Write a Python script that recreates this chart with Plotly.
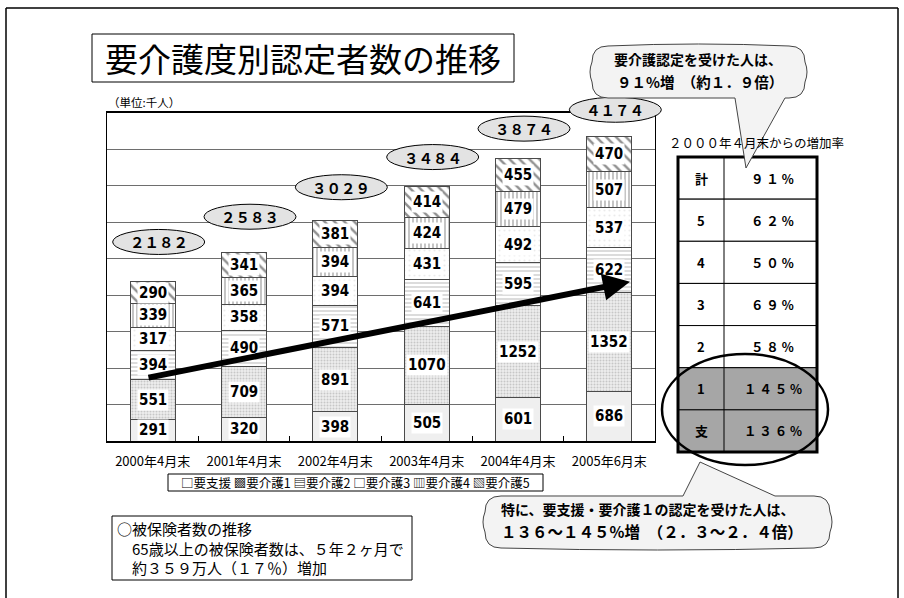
import plotly.graph_objects as go

W, H = 904, 598

# ---- data -------------------------------------------------------------
categories = ["2000年4月末", "2001年4月末", "2002年4月末",
              "2003年4月末", "2004年4月末", "2005年6月末"]
series_names = ["要支援", "要介護1", "要介護2", "要介護3", "要介護4", "要介護5"]
shien = [291, 320, 398, 505, 601, 686]
kaigo1 = [551, 709, 891, 1070, 1252, 1352]
kaigo2 = [394, 490, 571, 641, 595, 622]
kaigo3 = [317, 358, 394, 431, 492, 537]
kaigo4 = [339, 365, 394, 424, 479, 507]
kaigo5 = [290, 341, 381, 414, 455, 470]
totals = [2182, 2583, 3029, 3484, 3874, 4174]

rate_labels = ["計", "5", "4", "3", "2", "1", "支"]
rate_values = [91, 62, 50, 69, 58, 145, 136]
rate_highlight = [False, False, False, False, False, True, True]

series_values = [shien, kaigo1, kaigo2, kaigo3, kaigo4, kaigo5]

# ---- layout geometry (pixels) ----------------------------------------
X0, X1 = 107, 655      # plot area left / right
Y0, Y1 = 113, 441      # plot area top / bottom
YMAX = 4500


def px(x):
    return x / W


def py(y):
    return 1 - y / H


def zen(s):
    """Half-width digits -> full-width."""
    return s.translate(str.maketrans("0123456789", "０１２３４５６７８９"))


JP = "Noto Sans CJK JP, sans-serif"
NUM = "Liberation Sans Narrow, Arial Narrow, DejaVu Sans Condensed, Arial, sans-serif"

annotations = []
shapes = []


def note(x, y, text, size, family=JP, xanchor="center", yanchor="middle", **kw):
    annotations.append(dict(x=px(x), y=py(y), xref="paper", yref="paper", showarrow=False,
                            xanchor=xanchor, yanchor=yanchor, text=text,
                            font=dict(family=family, size=size, color="black"), **kw))


def rect(x0, y0, x1, y1, fill="white", color="black", width=1):
    shapes.append(dict(type="rect", xref="paper", yref="paper", x0=px(x0), x1=px(x1),
                       y0=py(y1), y1=py(y0), fillcolor=fill,
                       line=dict(color=color, width=width)))


def line(x0, y0, x1, y1, color="black", width=1):
    shapes.append(dict(type="line", xref="paper", yref="paper", x0=px(x0), x1=px(x1),
                       y0=py(y0), y1=py(y1), line=dict(color=color, width=width)))


styles = [
    dict(color="#efefef", pattern=dict(shape="")),
    dict(color="#e6e6e6", pattern=dict(shape=".", fgcolor="#a2a2a2", bgcolor="#ededed",
                                       size=3, solidity=0.35, fillmode="overlay")),
    dict(color="white", pattern=dict(shape="-", fgcolor="#8a8a8a", bgcolor="white",
                                     size=4, solidity=0.3)),
    dict(color="white", pattern=dict(shape=".", fgcolor="#d8d8d8", bgcolor="white",
                                     size=5, solidity=0.15)),
    dict(color="white", pattern=dict(shape="|", fgcolor="#3c3c3c", bgcolor="white",
                                     size=4, solidity=0.3)),
    dict(color="white", pattern=dict(shape="\\", fgcolor="#222222", bgcolor="white",
                                     size=7, solidity=0.35)),
]

fig = go.Figure()
for name, vals, st in zip(series_names, series_values, styles):
    fig.add_trace(go.Bar(
        x=categories, y=vals, name=name,
        marker=dict(color=st["color"], pattern=st["pattern"],
                    line=dict(color="#4a4a4a", width=1)),
        hoverinfo="x+y+name",
    ))

# segment value labels on white boxes
cum = [0] * len(categories)
for vals in series_values:
    for j, v in enumerate(vals):
        annotations.append(dict(
            x=j, y=cum[j] + v / 2, xref="x", yref="y", showarrow=False,
            xanchor="center", yanchor="middle",
            text=f"<b>{v}</b>", font=dict(family=NUM, size=15, color="black"),
            bgcolor="white", borderpad=1,
        ))
        cum[j] += v

# total bubbles above each bar
bubble_lift = [40, 36, 33, 30, 30, 27]
step = (X1 - X0) / len(categories)
for j, t in enumerate(totals):
    cx = X0 + (j + 0.5) * step + 6
    cy = Y1 - t / YMAX * (Y1 - Y0) - bubble_lift[j]
    shapes.append(dict(type="circle", xref="paper", yref="paper",
                       x0=px(cx - 46), x1=px(cx + 46), y0=py(cy + 12.5), y1=py(cy - 12.5),
                       fillcolor="#e3e3e3", line=dict(color="black", width=1)))
    note(cx, cy, "<b>" + zen(str(t)) + "</b>", 14.5)

# trend arrow
annotations.append(dict(x=5.226, y=2184, ax=-0.062, ay=865, xref="x", yref="y",
                        axref="x", ayref="y", showarrow=True, text="",
                        arrowhead=2, arrowsize=0.9, arrowwidth=6, arrowcolor="black"))

# outer frame
line(6, 8, 898, 8, width=1.5)
line(6, 8, 6, 600, width=1.5)
line(898, 8, 898, 600, width=1.5)

# title box
rect(92, 34, 514, 82)
note(303, 58, "要介護度別認定者数の推移", 33)
note(106, 102, "（単位:千人）", 11.5, xanchor="left")


def callout_path(x0, y0, x1, y1, r, tail, b1, b2, tip):
    tx, ty = tip
    P = lambda x, y: f"{px(x):.5f},{py(y):.5f}"
    b = 4  # side bulge
    d = [f"M{P(x0 + r, y0)}"]
    if tail == "top":
        d += [f"L{P(b1, y0)}", f"L{P(tx, ty)}", f"L{P(b2, y0)}", f"L{P(x1 - r, y0)}"]
    else:
        d += [f"Q{P((x0 + x1) / 2, y0 - b)} {P(x1 - r, y0)}"]
    d += [f"Q{P(x1, y0)} {P(x1, y0 + r)}",
          f"Q{P(x1 + b, (y0 + y1) / 2)} {P(x1, y1 - r)}",
          f"Q{P(x1, y1)} {P(x1 - r, y1)}"]
    if tail == "bottom":
        d += [f"L{P(b2, y1)}", f"L{P(tx, ty)}", f"L{P(b1, y1)}", f"L{P(x0 + r, y1)}"]
    else:
        d += [f"Q{P((x0 + x1) / 2, y1 + b)} {P(x0 + r, y1)}"]
    d += [f"Q{P(x0, y1)} {P(x0, y1 - r)}",
          f"Q{P(x0 - b, (y0 + y1) / 2)} {P(x0, y0 + r)}",
          f"Q{P(x0, y0)} {P(x0 + r, y0)}", "Z"]
    return " ".join(d)


# growth-rate table
TX0, TXM, TX1 = 678, 724, 817
TY0, TY1 = 157, 452
rh = (TY1 - TY0) / len(rate_labels)
for i, (lab, val, hi) in enumerate(zip(rate_labels, rate_values, rate_highlight)):
    ya, yb = TY0 + i * rh, TY0 + (i + 1) * rh
    rect(TX0, ya, TX1, yb, fill="#a6a6a6" if hi else "white")
    note((TX0 + TXM) / 2, (ya + yb) / 2, f"<b>{lab}</b>", 13)
    note((TXM + TX1) / 2 + 2, (ya + yb) / 2, "<b>" + " ".join(zen(str(val))) + " %</b>", 12.5)
line(TXM, TY0, TXM, TY1)
shapes.append(dict(type="rect", xref="paper", yref="paper", x0=px(TX0), x1=px(TX1),
                   y0=py(TY1), y1=py(TY0), line=dict(color="black", width=3)))
note(756, 142, zen("2000") + "年" + zen("4") + "月末からの増加率", 12.5)
shapes.append(dict(type="circle", xref="paper", yref="paper", x0=px(662), x1=px(828),
                   y0=py(465), y1=py(354), line=dict(color="black", width=2.5)))

# callout: overall increase
shapes.append(dict(type="path", xref="paper", yref="paper",
                   path=callout_path(592, 46, 805, 98, 16, "bottom", 735, 785, (746, 168)),
                   fillcolor="#f3f3f3", line=dict(color="#444444", width=1)))
note(698, 59, "<b>要介護認定を受けた人は、</b>", 14)
note(700, 81, "<b>９１%増　（約１．９倍）</b>", 14.5)

# callout: support-level increase
shapes.append(dict(type="path", xref="paper", yref="paper",
                   path=callout_path(485, 496, 830, 548, 16, "top", 683, 775, (700, 462)),
                   fillcolor="#f3f3f3", line=dict(color="#444444", width=1)))
note(648, 509, "<b>特に、要支援・要介護１の認定を受けた人は、</b>", 14)
note(652, 531, "<b>１３６～１４５%増　（２．３～２．４倍）</b>", 15.5)

# insured population note
rect(112, 516, 412, 580)
note(115, 548, "○被保険者数の推移<br>　65歳以上の被保険者数は、５年２ヶ月で<br>　約３５９万人（１７％）増加",
     15, xanchor="left", align="left")

# legend line
legend_marks = ["□", "▩", "▤", "□", "▥", "▧"]
legend_text = " ".join(m + n for m, n in zip(legend_marks, series_names))
rect(168, 474, 543, 491)
note(355.5, 482.5, legend_text, 12.5)

fig.update_layout(
    width=W, height=H, margin=dict(l=0, r=0, t=0, b=0),
    paper_bgcolor="white", plot_bgcolor="white",
    barmode="stack", bargap=0.51, showlegend=False,
    xaxis=dict(domain=[px(X0), px(X1)], type="category", showgrid=False,
               showline=True, linecolor="black", linewidth=1.5, mirror=True,
               ticks="inside", tickson="boundaries", ticklen=5, tickcolor="black",
               tickfont=dict(family=JP, size=13, color="black"), ticklabelstandoff=8),
    yaxis=dict(domain=[py(Y1), py(Y0)], range=[0, YMAX], dtick=500,
               showgrid=True, gridcolor="#6e6e6e", gridwidth=1, zeroline=False,
               showticklabels=False, showline=True, linecolor="black", linewidth=1,
               mirror=True, ticks=""),
    shapes=shapes, annotations=annotations,
)

fig.write_html("out.html")
